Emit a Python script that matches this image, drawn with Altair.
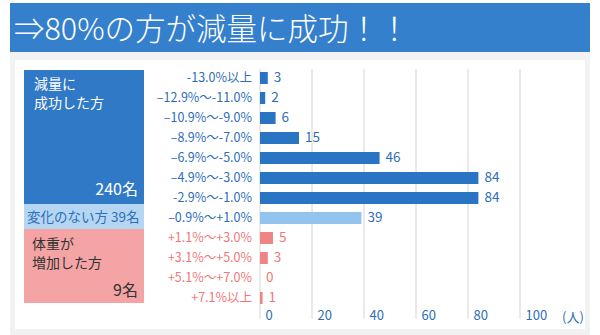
import altair as alt
import pandas as pd

categories = ["-13.0%以上", "–12.9%〜-11.0%", "–10.9%〜-9.0%", "–8.9%〜-7.0%",
              "–6.9%〜-5.0%", "–4.9%〜-3.0%", "-2.9%〜-1.0%", "–0.9%〜+1.0%",
              "+1.1%〜+3.0%", "+3.1%〜+5.0%", "+5.1%〜+7.0%", "+7.1%以上"]
counts = [3, 2, 6, 15, 46, 84, 84, 39, 5, 3, 0, 1]
groups = ["dec"] * 7 + ["same"] + ["inc"] * 4
ticks = [0, 20, 40, 60, 80, 100]

FONT = "Noto Sans CJK JP"
BLUE_TXT = "#2e6eb8"
RED_TXT = "#f07878"

df = pd.DataFrame({"cat": categories, "n": counts, "g": groups})
grid_df = pd.DataFrame({"t": ticks})

W, H = 260, 240
PL, PT = 260, 68  # plot origin in the page


def one():
    return alt.Data(values=[{"a": 1}])


def box(x, x2, y, y2, color):
    return alt.Chart(one()).mark_rect(color=color).encode(
        x=alt.value(x - PL), x2=alt.value(x2 - PL),
        y=alt.value(y - PT), y2=alt.value(y2 - PT))


def label(txt, x, y, size, color, align="left", weight=400):
    return alt.Chart(one()).mark_text(
        text=txt, font=FONT, fontSize=size, color=color, align=align,
        baseline="middle", fontWeight=weight).encode(
        x=alt.value(x - PL), y=alt.value(y - PT))


xscale = alt.Scale(domain=[0, 100], range=[0, W], nice=False)
xaxis = alt.Axis(values=ticks, grid=False, domain=False, ticks=False,
                 labelAlign="left", labelOffset=5, labelPadding=1,
                 labelBaseline="top", labelFont=FONT, labelFontSize=13,
                 labelColor=BLUE_TXT, title=None, zindex=2)
yscale = alt.Scale(domain=categories, paddingInner=0, paddingOuter=0)
col_scale = alt.Scale(domain=["dec", "same", "inc"],
                      range=["#2a74c4", "#93c4ee", "#ee8484"])
txt_scale = alt.Scale(domain=["dec", "same", "inc"],
                      range=[BLUE_TXT, BLUE_TXT, RED_TXT])

layers = [
    box(10, 590, 3, 52, "#3580cc"),
    box(10, 590, 52, 335, "#f2f2f2"),
    box(15, 585, 60, 329, "#ffffff"),
    label("⇒80%の方が減量に成功！！", 14, 31, 30.5, "#ffffff", weight=300),
    box(24, 144, 70, 204, "#3079c6"),
    box(24, 144, 204, 229, "#b4d6f3"),
    box(24, 144, 229, 303, "#f4a4a4"),
    label("減量に", 34, 84.5, 14, "#ffffff"),
    label("成功した方", 34, 103.5, 14, "#ffffff"),
    label("240名", 138, 190, 16, "#ffffff", align="right"),
    label("変化のない方 39名", 27, 218, 13.5, BLUE_TXT),
    label("体重が", 32, 244.5, 14, "#333333"),
    label("増加した方", 32, 263.5, 14, "#333333"),
    label("9名", 138, 291, 16, "#333333", align="right"),
    alt.Chart(grid_df).mark_rule(color="#d4d4d4", strokeWidth=1).encode(
        x=alt.X("t:Q", scale=xscale, axis=xaxis),
        y=alt.value(69 - PT), y2=alt.value(319 - PT)),
    alt.Chart(df).mark_bar(height=12).encode(
        x=alt.X("n:Q", scale=xscale, axis=xaxis),
        y=alt.Y("cat:N", scale=yscale, axis=None),
        color=alt.Color("g:N", scale=col_scale, legend=None)),
    alt.Chart(df).mark_text(align="right", baseline="middle", font=FONT,
                            fontSize=12.5, dx=-8).encode(
        x=alt.value(0),
        y=alt.Y("cat:N", scale=yscale, axis=None),
        text="cat:N",
        color=alt.Color("g:N", scale=txt_scale, legend=None)),
    alt.Chart(df).mark_text(align="left", baseline="middle", font=FONT,
                            fontSize=13.5, dx=6).encode(
        x=alt.X("n:Q", scale=xscale, axis=xaxis),
        y=alt.Y("cat:N", scale=yscale, axis=None),
        text="n:Q",
        color=alt.Color("g:N", scale=txt_scale, legend=None)),
    label("(人)", 562, 318, 13, BLUE_TXT),
]

chart = alt.layer(*layers).resolve_scale(color="independent").properties(
    width=W, height=H,
    padding={"left": PL, "top": PT, "right": 600 - PL - W, "bottom": 335 - PT - H},
    autosize=alt.AutoSizeParams(type="none"),
    background="#ffffff",
).configure_view(stroke=None)

chart.save("out.html", embed_options={"renderer": "svg", "actions": False})
